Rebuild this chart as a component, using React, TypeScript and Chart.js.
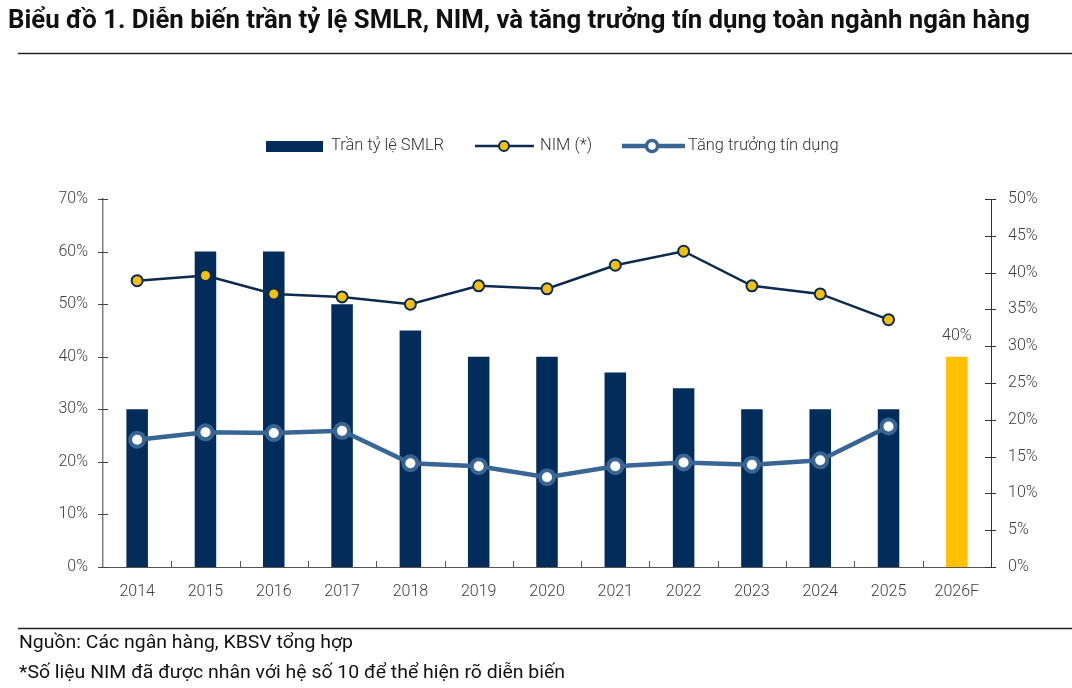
import React, { useEffect, useRef } from "react";
import { Chart, registerables } from "chart.js";

Chart.register(...registerables);

// ---- data ----
const categories = ["2014", "2015", "2016", "2017", "2018", "2019", "2020", "2021", "2022", "2023", "2024", "2025", "2026F"];
const smlrCap = [30, 60, 60, 50, 45, 40, 40, 37, 34, 30, 30, 30, 40];
const nimTimes10 = [38.9, 39.6, 37.1, 36.7, 35.7, 38.2, 37.8, 41.0, 42.9, 38.2, 37.1, 33.6, null];
const creditGrowth = [17.3, 18.3, 18.2, 18.5, 14.1, 13.7, 12.2, 13.7, 14.2, 13.9, 14.5, 19.1, null];
const forecastIndex = 12;
const forecastLabel = "40%";
const legendLabels = ["Trần tỷ lệ SMLR", "NIM (*)", "Tăng trưởng tín dụng"];
const titleText = "Biểu đồ 1. Diễn biến trần tỷ lệ SMLR, NIM, và tăng trưởng tín dụng toàn ngành ngân hàng";
const sourceText = "Nguồn: Các ngân hàng, KBSV tổng hợp";
const noteText = "*Số liệu NIM đã được nhân với hệ số 10 để thể hiện rõ diễn biến";

// ---- styles ----
const NAVY = "#022d5b";
const NIM_LINE = "#0c2a4e";
const YELLOW = "#ffc000";
const NIM_POINT = "#f2c10f";
const STEEL = "#386593";
const TEXT = "#404040";
const FONT = "Roboto, 'Noto Sans', sans-serif";

const axisTicksPlugin = {
  id: "axisTicks",
  afterDraw(chart: any) {
    const ctx = chart.ctx;
    const { x, y, y1 } = chart.scales;
    ctx.save();
    ctx.lineWidth = 1;
    const seg = (a: number, b: number, c: number, d: number) => {
      ctx.beginPath();
      ctx.moveTo(a, b);
      ctx.lineTo(c, d);
      ctx.stroke();
    };
    ctx.strokeStyle = "#444";
    y.ticks.forEach((t: any) => {
      const p = Math.round(y.getPixelForValue(t.value)) + 0.5;
      seg(y.right - 5, p, y.right + 5, p);
    });
    ctx.strokeStyle = "#333";
    y1.ticks.forEach((t: any) => {
      const p = Math.round(y1.getPixelForValue(t.value)) + 0.5;
      seg(y1.left - 6, p, y1.left + 5, p);
    });
    ctx.strokeStyle = "#555";
    for (let i = 1; i < categories.length; i++) {
      const p = Math.round(x.getPixelForValue(i - 0.5)) + 0.5;
      seg(p, x.top, p, x.top - 6);
    }
    ctx.restore();
  },
};

const forecastLabelPlugin = {
  id: "forecastLabel",
  afterDatasetsDraw(chart: any) {
    const meta = chart.getDatasetMeta(2);
    const bar = meta.data[forecastIndex];
    if (!bar) return;
    const ctx = chart.ctx;
    ctx.save();
    ctx.font = `300 16px ${FONT}`;
    ctx.fillStyle = TEXT;
    ctx.textAlign = "center";
    ctx.textBaseline = "alphabetic";
    ctx.fillText(forecastLabel, bar.x, bar.y - 17);
    ctx.restore();
  },
};

const legendPlugin = {
  id: "customLegend",
  afterDraw(chart: any) {
    const ctx = chart.ctx;
    const cy = 146;
    ctx.save();
    ctx.font = `300 16.5px ${FONT}`;
    ctx.textBaseline = "middle";
    ctx.textAlign = "left";
    // bar swatch
    ctx.fillStyle = NAVY;
    ctx.fillRect(266, cy - 5, 57, 11);
    ctx.fillStyle = "#333";
    ctx.fillText(legendLabels[0], 331, cy);
    // NIM
    ctx.strokeStyle = NIM_LINE;
    ctx.lineWidth = 2.5;
    ctx.beginPath();
    ctx.moveTo(475, cy);
    ctx.lineTo(534, cy);
    ctx.stroke();
    ctx.beginPath();
    ctx.arc(504, cy, 5, 0, Math.PI * 2);
    ctx.fillStyle = NIM_POINT;
    ctx.fill();
    ctx.lineWidth = 2;
    ctx.stroke();
    ctx.fillStyle = "#333";
    ctx.fillText(legendLabels[1], 540, cy);
    // credit growth
    ctx.strokeStyle = STEEL;
    ctx.lineWidth = 4.5;
    ctx.beginPath();
    ctx.moveTo(622, cy);
    ctx.lineTo(685, cy);
    ctx.stroke();
    ctx.beginPath();
    ctx.arc(652, cy, 5.5, 0, Math.PI * 2);
    ctx.fillStyle = "#fff";
    ctx.fill();
    ctx.lineWidth = 3.5;
    ctx.stroke();
    ctx.fillStyle = "#333";
    ctx.fillText(legendLabels[2], 688, cy);
    ctx.restore();
  },
};

function ComboChart() {
  const ref = useRef<HTMLCanvasElement | null>(null);
  useEffect(() => {
    if (!ref.current) return;
    const tickFont = { family: FONT, size: 16, weight: "300" as any };
    const chart = new Chart(ref.current, {
      type: "bar",
      data: {
        labels: categories,
        datasets: [
          {
            type: "line",
            label: legendLabels[1],
            data: nimTimes10,
            yAxisID: "y1",
            borderColor: NIM_LINE,
            borderWidth: 2.5,
            pointBackgroundColor: NIM_POINT,
            pointBorderColor: NIM_LINE,
            pointBorderWidth: 2,
            pointRadius: 5.5,
            tension: 0,
            order: 0,
          } as any,
          {
            type: "line",
            label: legendLabels[2],
            data: creditGrowth,
            yAxisID: "y1",
            borderColor: STEEL,
            borderWidth: 4.5,
            pointBackgroundColor: "#ffffff",
            pointBorderColor: STEEL,
            pointBorderWidth: 4,
            pointRadius: 7,
            tension: 0,
            order: 1,
          } as any,
          {
            type: "bar",
            label: legendLabels[0],
            data: smlrCap,
            yAxisID: "y",
            backgroundColor: smlrCap.map((_, i) => (i === forecastIndex ? YELLOW : NAVY)),
            barPercentage: 0.315,
            categoryPercentage: 1,
            order: 2,
          } as any,
        ],
      },
      options: {
        responsive: false,
        animation: false,
        layout: { padding: { top: 199, bottom: 81, left: 0, right: 0 } },
        plugins: { legend: { display: false }, tooltip: { enabled: false } },
        scales: {
          x: {
            offset: true,
            grid: { display: false, drawTicks: false },
            border: { display: true, color: "#555", width: 1 },
            ticks: { color: TEXT, font: tickFont, padding: 15 },
            afterFit: (s: any) => {
              s.height = 40;
            },
          },
          y: {
            position: "left",
            min: 0,
            max: 70,
            grid: { display: false, drawTicks: false },
            border: { display: true, color: "#808080", width: 1.5 },
            ticks: {
              stepSize: 10,
              color: TEXT,
              padding: 15,
              font: tickFont,
              callback: (v: any) => v + "%",
            },
            afterFit: (s: any) => {
              s.width = 103;
            },
          },
          y1: {
            position: "right",
            min: 0,
            max: 50,
            grid: { display: false, drawTicks: false },
            border: { display: true, color: "#333", width: 1 },
            ticks: {
              stepSize: 5,
              color: TEXT,
              padding: 17,
              font: tickFont,
              callback: (v: any) => v + "%",
            },
            afterFit: (s: any) => {
              s.width = 81;
            },
          },
        },
      },
      plugins: [axisTicksPlugin, forecastLabelPlugin, legendPlugin],
    });
    return () => chart.destroy();
  }, []);
  return <canvas ref={ref} width={1072} height={688} style={{ position: "absolute", left: 0, top: 0 }} />;
}

export default function App() {
  useEffect(() => {
    document.body.style.margin = "0";
    document.body.style.background = "#fff";
  }, []);
  return (
    <div style={{ position: "relative", width: 1072, height: 688, overflow: "hidden", background: "#fff" }}>
      <ComboChart />
      <svg width={1072} height={688} style={{ position: "absolute", left: 0, top: 0, pointerEvents: "none" }}>
        <text
          x={8}
          y={28}
          fontFamily={FONT}
          fontWeight={700}
          fontSize={25}
          fill="#111"
          textLength={1022}
          lengthAdjust="spacingAndGlyphs"
        >
          {titleText}
        </text>
        <line x1={18} y1={53.5} x2={1072} y2={53.5} stroke="#222" strokeWidth={1.5} />
        <line x1={18} y1={628.5} x2={1072} y2={628.5} stroke="#222" strokeWidth={1.5} />
        <text x={19} y={648} fontFamily={FONT} fontSize={18.5} fill="#111" textLength={334} lengthAdjust="spacingAndGlyphs">
          {sourceText}
        </text>
        <text x={19} y={678} fontFamily={FONT} fontSize={18.5} fill="#111" textLength={546} lengthAdjust="spacingAndGlyphs">
          {noteText}
        </text>
      </svg>
    </div>
  );
}
